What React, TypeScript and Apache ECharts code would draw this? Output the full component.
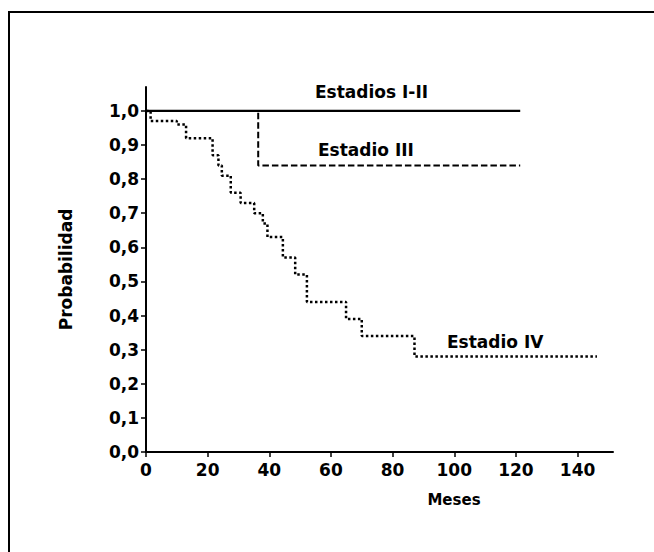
import React, { useEffect, useRef } from "react";
import * as echarts from "echarts";

// Kaplan-Meier curves (months, survival probability)
const timesI_II = [0, 121.4];
const survI_II = [1.0, 1.0];

const timesIII = [0, 36.4, 121.4];
const survIII = [1.0, 0.84, 0.84];

const timesIV = [0, 1.5, 10, 13, 21.6, 23.5, 24.6, 27.5, 30.7, 35.1, 37.9, 39.4, 44.4, 48.4, 52.2, 64.9, 70, 87.1, 146.3];
const survIV = [1.0, 0.97, 0.96, 0.92, 0.87, 0.84, 0.81, 0.76, 0.73, 0.70, 0.67, 0.63, 0.57, 0.52, 0.44, 0.39, 0.34, 0.28, 0.28];

const xTicks = [0, 20, 40, 60, 80, 100, 120, 140];
const yTicks = [0, 0.1, 0.2, 0.3, 0.4, 0.5, 0.6, 0.7, 0.8, 0.9, 1.0];

const seriesLabels = ["Estadios I-II", "Estadio III", "Estadio IV"];

const FONT = "'DejaVu Sans', sans-serif";

function pairs(t: number[], s: number[]) {
  return t.map((v, i) => [v, s[i]]);
}

export default function App() {
  const ref = useRef<HTMLDivElement>(null);
  useEffect(() => {
    document.body.style.margin = "0";
    const chart = echarts.init(ref.current!, null, { renderer: "svg" });
    chart.setOption({
      animation: false,
      backgroundColor: "#ffffff",
      grid: { left: 146, right: 41, top: 87, bottom: 100, containLabel: false },
      xAxis: {
        type: "value",
        min: 0,
        max: 151.5,
        interval: 20,
        splitLine: { show: false },
        axisLine: { lineStyle: { color: "#000", width: 2 } },
        axisTick: { customValues: xTicks, length: 5, lineStyle: { color: "#000", width: 1.5 } },
        axisLabel: {
          customValues: xTicks,
          color: "#000",
          fontFamily: FONT,
          fontWeight: "bold",
          fontSize: 17,
          margin: 9,
        },
      },
      yAxis: {
        type: "value",
        min: 0,
        max: 1.07,
        interval: 0.1,
        name: "Probabilidad",
        nameLocation: "middle",
        nameRotate: 90,
        nameGap: 72,
        nameTextStyle: { color: "#000", fontFamily: FONT, fontWeight: "bold", fontSize: 17 },
        splitLine: { show: false },
        axisLine: { lineStyle: { color: "#000", width: 2 } },
        axisTick: { customValues: yTicks, length: 5, lineStyle: { color: "#000", width: 1.5 } },
        axisLabel: {
          customValues: yTicks,
          color: "#000",
          fontFamily: FONT,
          fontWeight: "bold",
          fontSize: 17,
          margin: 7,
          formatter: (v: number) => v.toFixed(1).replace(".", ","),
        },
      },
      series: [
        {
          name: seriesLabels[0],
          type: "line",
          step: "end",
          showSymbol: false,
          data: pairs(timesI_II, survI_II),
          lineStyle: { color: "#000", width: 2.2, type: "solid" },
          z: 3,
        },
        {
          name: seriesLabels[1],
          type: "line",
          step: "end",
          showSymbol: false,
          data: pairs(timesIII, survIII),
          lineStyle: { color: "#000", width: 2, type: [6.5, 3] },
          z: 2,
        },
        {
          name: seriesLabels[2],
          type: "line",
          step: "end",
          showSymbol: false,
          data: pairs(timesIV, survIV),
          lineStyle: { color: "#000", width: 2.5, type: [2.5, 2.5] },
          z: 2,
        },
      ],
      graphic: [
        {
          type: "rect",
          shape: { x: 9, y: 12, width: 720, height: 620 },
          style: { fill: "none", stroke: "#000", lineWidth: 2 },
          silent: true,
        },
        {
          type: "text",
          x: 315,
          y: 92,
          style: { text: seriesLabels[0], fill: "#000", font: `bold 17px ${FONT}`, textVerticalAlign: "middle" },
        },
        {
          type: "text",
          x: 318,
          y: 150,
          style: { text: seriesLabels[1], fill: "#000", font: `bold 17px ${FONT}`, textVerticalAlign: "middle" },
        },
        {
          type: "text",
          x: 447,
          y: 342,
          style: { text: seriesLabels[2], fill: "#000", font: `bold 17px ${FONT}`, textVerticalAlign: "middle" },
        },
        {
          type: "text",
          x: 454,
          y: 500,
          style: { text: "Meses", fill: "#000", font: `bold 15px ${FONT}`, textAlign: "center", textVerticalAlign: "middle" },
        },
      ],
    });
    return () => chart.dispose();
  }, []);
  return (
    <div
      ref={ref}
      style={{ position: "fixed", left: 0, top: 0, width: 654, height: 552 }}
    />
  );
}
